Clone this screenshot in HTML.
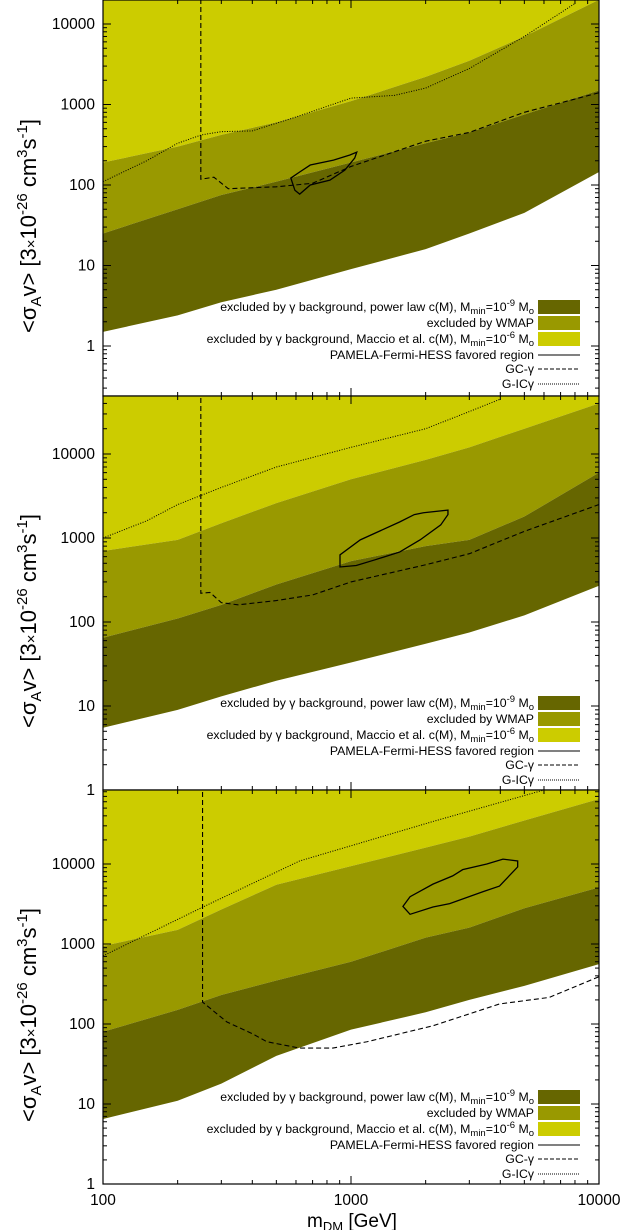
<!DOCTYPE html>
<html><head><meta charset="utf-8"><style>
html,body{margin:0;padding:0;background:#fff;}
svg{display:block;font-family:"Liberation Sans",sans-serif;}
</style></head><body>
<svg id="chart" width="628" height="1230" viewBox="0 0 628 1230" xmlns="http://www.w3.org/2000/svg"></svg>
<script>
// ---- data ----
const massGrid = [100,200,300,500,1000,2000,3000,5000,10000];
const p1DarkLow = [1.5,2.4,3.5,5,9,16,25,45,145];
const p1DarkTop = [25,50,75,110,190,330,450,750,1500];
const p1MidTop  = [190,300,420,600,1100,2200,3500,7000,20000];
const p2DarkLow = [5.5,9,13,20,33,55,75,120,270];
const p2DarkTop = [65,110,160,280,530,800,950,1800,6000];
const p2MidTop  = [700,950,1500,2600,5000,8500,12000,20000,40000];
const p3DarkLow = [6.5,11,18,40,85,140,200,300,560];
const p3DarkTop = [80,150,230,350,600,1200,1600,2800,5100];
const p3MidTop  = [945,1500,2700,5500,9400,16000,22000,35000,65000];

const p1DashM = [248,248,280,320,500,700,1000,2000,3000,5000,10000];
const p1DashV = [1e6,118,125,90,95,105,170,350,450,800,1400];
const p2DashM = [248,248,270,300,350,500,700,1000,2000,3000,5000,10000];
const p2DashV = [1e6,220,225,170,160,180,210,300,480,650,1200,2500];
const p3DashM = [252,252,316,402,458,620,845,1160,2140,3970,6300,10000];
const p3DashV = [1e6,188,106,75,60,50,50,60,95,178,215,390];

const p1DotM = [100,150,200,250,300,400,600,1000,1500,2000,3000,5000,8000];
const p1DotV = [110,200,330,420,460,470,700,1200,1300,1600,2800,7000,18000];
const p2DotM = [100,150,200,300,500,1000,2000,3000,4000];
const p2DotV = [1000,1600,2500,4000,7000,12000,20000,32000,45000];
const p3DotM = [100,253,620,2140,6150];
const p3DotV = [710,2900,10900,34000,86000];

const p1ContM = [572,594,621,685,822,944,1035,1055,990,850,685,621];
const p1ContV = [122,86,77,100,115,153,216,256,236,204,177,145];
const p2ContM = [903,903,1090,1570,1800,1960,2460,2460,2300,1900,1570,1250,1050];
const p2ContV = [452,630,950,1550,1900,2000,2150,1900,1430,950,680,550,470];
const p3ContM = [1620,1730,2140,2570,2820,3530,4100,4700,4700,3970,3400,2500,2140,1730];
const p3ContV = [2950,3900,5600,7100,8500,10000,11500,10900,9200,5300,4500,3200,2900,2350];

const yTicks1 = [1,10,100,1000,10000];
const yTicks2 = [1,10,100,1000,10000];
const yTicks3 = [1,10,100,1000,10000];
const xTickLabels = [100,1000,10000];

// ---- layout ----
const NS="http://www.w3.org/2000/svg";
const svg=document.getElementById('chart');
const X0=103,X1=599;
const panels=[
 {top:0,bot:396,yBase:346,ppd:80.5,low:p1DarkLow,dt:p1DarkTop,mt:p1MidTop,dm:p1DashM,dv:p1DashV,om:p1DotM,ov:p1DotV,cm:p1ContM,cv:p1ContV,ticks:yTicks1},
 {top:396,bot:790,yBase:790,ppd:84,low:p2DarkLow,dt:p2DarkTop,mt:p2MidTop,dm:p2DashM,dv:p2DashV,om:p2DotM,ov:p2DotV,cm:p2ContM,cv:p2ContV,ticks:yTicks2},
 {top:790,bot:1184,yBase:1184,ppd:80,low:p3DarkLow,dt:p3DarkTop,mt:p3MidTop,dm:p3DashM,dv:p3DashV,om:p3DotM,ov:p3DotV,cm:p3ContM,cv:p3ContV,ticks:yTicks3}
];
function xs(m){return X0+(Math.log10(m)-2)*248;}
function mk(tag,attrs,parent){const e=document.createElementNS(NS,tag);for(const k in attrs)e.setAttribute(k,attrs[k]);(parent||svg).appendChild(e);return e;}

panels.forEach((p,i)=>{
  const ys=v=>p.yBase-Math.log10(v)*p.ppd;
  const g=mk('g',{});
  
  
  const cp=mk('clipPath',{id:'cp'+i},g);
  mk('rect',{x:X0,y:p.top,width:X1-X0,height:p.bot-p.top},cp);
  const pg=mk('g',{'clip-path':'url(#cp'+i+')'},g);
  const top=p.top-5;
  const up=(arr)=>massGrid.map((m,k)=>xs(m)+','+ys(arr[k])).join(' ');
  const rev=(arr)=>massGrid.slice().reverse().map((m,k)=>xs(m)+','+ys(arr[arr.length-1-k])).join(' ');
  const light=mk('polygon',{points:up(p.mt)+' '+xs(10000)+','+top+' '+xs(100)+','+top,fill:'#cccc00'},pg);
  
  
  const mid=mk('polygon',{points:up(p.dt)+' '+rev(p.mt),fill:'#999900'},pg);
  
  
  const dark=mk('polygon',{points:up(p.low)+' '+rev(p.dt),fill:'#666600'},pg);
  
  
  const pts=(M,V)=>M.map((m,k)=>xs(m)+','+ys(V[k])).join(' ');
  const dash=mk('polyline',{points:pts(p.dm,p.dv),fill:'none',stroke:'#000','stroke-width':1.1,'stroke-dasharray':'5,3'},pg);
  
  
  const dot=mk('polyline',{points:pts(p.om,p.ov),fill:'none',stroke:'#000','stroke-width':1,'stroke-dasharray':'1,1.5'},pg);
  
  
  const cont=mk('polygon',{points:pts(p.cm,p.cv),fill:'none',stroke:'#000','stroke-width':1.3},pg);
  
  
  mk('rect',{x:X0,y:p.top,width:X1-X0,height:p.bot-p.top,fill:'none',stroke:'#000','stroke-width':1.2},g);
  for(let d=2;d<4;d++)for(let k=1;k<10;k++){
    const x=xs(k*Math.pow(10,d)); const L=k===1?8:4;
    mk('line',{x1:x,y1:p.bot,x2:x,y2:p.bot-L,stroke:'#000'},g);
    mk('line',{x1:x,y1:p.top,x2:x,y2:p.top+L,stroke:'#000'},g);
  }
  for(let d=-1;d<5;d++)for(let k=1;k<10;k++){
    const y=ys(k*Math.pow(10,d)); if(y<p.top||y>p.bot)continue; const L=k===1?8:4;
    mk('line',{x1:X0,y1:y,x2:X0+L,y2:y,stroke:'#000'},g);
    mk('line',{x1:X1,y1:y,x2:X1-L,y2:y,stroke:'#000'},g);
  }
  p.ticks.forEach(v=>{
    const y=ys(v); if(y>p.bot+1) return;
    const t=mk('text',{x:95,y:y+5,'text-anchor':'end','font-size':15.5},g);
    t.textContent=v;
    
    
  });
  const cy=(p.top+p.bot)/2+28;
  const yt=mk('text',{transform:`translate(36,${cy}) rotate(-90)`,'text-anchor':'middle','font-size':22},g);
  
  
  yt.innerHTML='&lt;σ<tspan font-size="15" dy="5">A</tspan><tspan dy="-5">v&gt; [3</tspan><tspan font-size="15">×</tspan>10<tspan font-size="15" dy="-9">-26</tspan><tspan dy="9"> cm</tspan><tspan font-size="15" dy="-9">3</tspan><tspan dy="9">s</tspan><tspan font-size="15" dy="-9">-1</tspan><tspan dy="9">]</tspan>';
  const rows=[
   ['excluded by γ background, power law c(M), M<tspan font-size="9.5" dy="3">min</tspan><tspan dy="-3">=10</tspan><tspan font-size="9.5" dy="-5">-9</tspan><tspan dy="5"> M</tspan><tspan font-size="9.5" dy="3">o</tspan>','box','#666600','legend-power-law'],
   ['excluded by WMAP','box','#999900','legend-wmap'],
   ['excluded by γ background, Maccio et al. c(M), M<tspan font-size="9.5" dy="3">min</tspan><tspan dy="-3">=10</tspan><tspan font-size="9.5" dy="-5">-6</tspan><tspan dy="5"> M</tspan><tspan font-size="9.5" dy="3">o</tspan>','box','#cccc00','legend-maccio'],
   ['PAMELA-Fermi-HESS favored region','solid','','legend-pamela'],
   ['GC-γ','dash','','legend-gc-gamma'],
   ['G-ICγ','dot','','legend-g-ic-gamma']];
  const ry=[307,323,339,355,369,384];
  rows.forEach((r,k)=>{
    const y=p.top+ry[k];
    const lg=mk('g',{},g);
    
    
    const t=mk('text',{x:534,y:y+4,'text-anchor':'end','font-size':12.3},lg);
    t.innerHTML=r[0];
    if(r[1]==='box') mk('rect',{x:538,y:y-7,width:42,height:14,fill:r[2]},lg);
    else mk('line',{x1:538,y1:y,x2:580,y2:y,stroke:'#000','stroke-width':1,'stroke-dasharray':r[1]==='dash'?'4,2':r[1]==='dot'?'1,1':'none'},lg);
  });
});
xTickLabels.forEach(m=>{
  const t=mk('text',{x:xs(m),y:1205,'text-anchor':'middle','font-size':15.5});
  t.textContent=m;
  
  
});
const xt=mk('text',{x:352,y:1227,'text-anchor':'middle','font-size':19});


xt.innerHTML='m<tspan font-size="13" dy="4">DM</tspan><tspan dy="-4"> [GeV]</tspan>';
</script>
</body></html>
